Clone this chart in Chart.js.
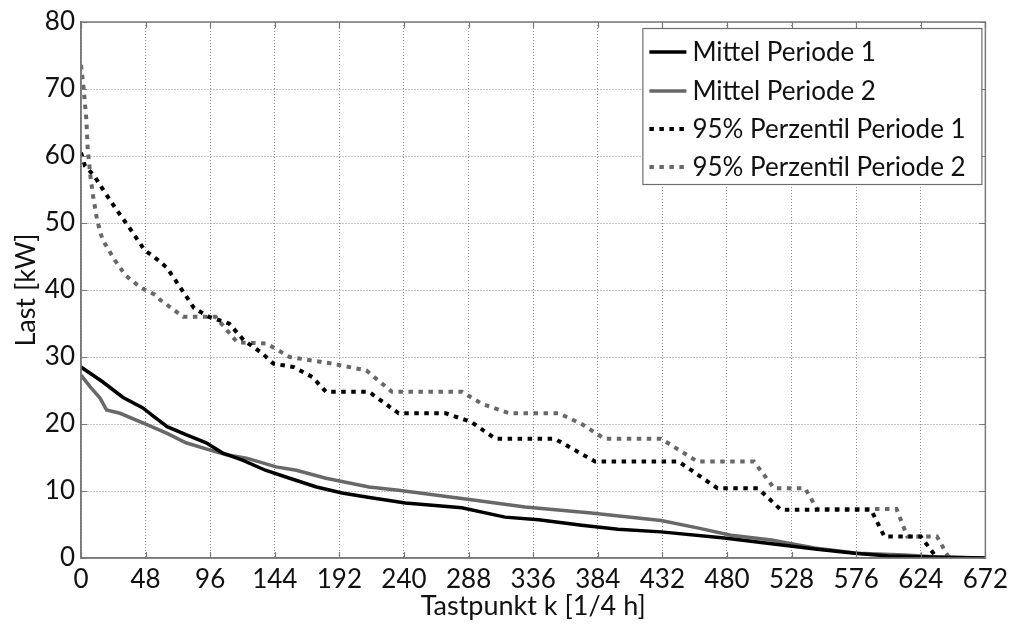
<!DOCTYPE html>
<html>
<head>
<meta charset="utf-8">
<script src="https://cdn.jsdelivr.net/npm/chart.js@4.4.1/dist/chart.umd.min.js"></script>
<style>
  html, body { margin: 0; padding: 0; background: #ffffff; }
  #wrap { width: 1014px; height: 624px; }
</style>
</head>
<body>
<div id="wrap"><canvas id="c" width="1014" height="624"></canvas></div>
<script>
// Sample index k (quarter hours) and sorted load values in kW
const mean1K = [0, 16, 31, 46, 53, 64, 78, 93, 105, 120, 137, 155, 175, 194, 212, 241, 283, 315, 340, 372, 399, 431, 478, 510, 547, 575, 600, 640, 672];
const mean1V = [28.5, 26.3, 24.0, 22.4, 21.3, 19.6, 18.4, 17.2, 15.7, 14.6, 13.1, 11.9, 10.6, 9.7, 9.1, 8.2, 7.5, 6.1, 5.7, 4.9, 4.3, 3.9, 3.0, 2.2, 1.3, 0.7, 0.3, 0.1, 0];

const mean2K = [0, 7, 14, 19, 29, 49, 64, 78, 96, 108, 123, 145, 160, 182, 214, 236, 290, 330, 379, 431, 458, 483, 513, 545, 577, 612, 636, 672];
const mean2V = [27.3, 25.5, 23.9, 22.1, 21.6, 19.9, 18.6, 17.2, 16.1, 15.4, 14.9, 13.6, 13.1, 11.9, 10.6, 10.1, 8.7, 7.6, 6.7, 5.6, 4.5, 3.4, 2.7, 1.5, 0.7, 0.45, 0.15, 0];

const p95_1K = [0, 3, 10, 14, 25, 38, 47, 57, 64, 70, 84, 95, 110, 121, 135, 143, 158, 172, 182, 214, 236, 271, 290, 308, 352, 382, 444, 473, 503, 520, 587, 597, 624, 636, 672];
const p95_1V = [60.5, 58.5, 57.0, 55.7, 52.4, 48.7, 46.0, 44.5, 43.3, 41.5, 37.3, 36.0, 35.0, 32.5, 30.5, 29.0, 28.5, 27.0, 24.8, 24.8, 21.6, 21.6, 20.3, 17.8, 17.8, 14.4, 14.4, 10.4, 10.4, 7.2, 7.2, 3.2, 3.2, 0, 0];

const p95_2K = [0, 2, 4, 5, 7, 9, 12, 16, 25, 33, 44, 55, 59, 76, 100, 116, 138, 155, 187, 212, 231, 283, 298, 318, 355, 372, 389, 431, 458, 500, 515, 538, 547, 606, 614, 636, 645, 672];
const p95_2V = [73.6, 70.0, 65.4, 61.0, 57.0, 54.0, 50.4, 47.5, 44.5, 42.2, 40.4, 39.3, 38.5, 36.0, 36.0, 32.2, 32.0, 30.0, 29.0, 28.0, 24.8, 24.8, 23.0, 21.6, 21.6, 20.0, 17.8, 17.8, 14.4, 14.4, 10.4, 10.4, 7.3, 7.3, 3.2, 3.2, 0, 0];

const seriesNames = ['Mittel Periode 1', 'Mittel Periode 2', '95% Perzentil Periode 1', '95% Perzentil Periode 2'];
const xTicks = [0, 48, 96, 144, 192, 240, 288, 336, 384, 432, 480, 528, 576, 624, 672];
const yTicks = [0, 10, 20, 30, 40, 50, 60, 70, 80];
const xTitle = 'Tastpunkt k [1/4 h]';
const yTitle = 'Last [kW]';

const FONT = 'Lato, "Open Sans", sans-serif';
const BLACK = '#000000';
const GREY = '#686868';

function pts(ks, vs) { return ks.map((k, i) => ({ x: k, y: vs[i] })); }

// Inward tick marks on all four sides plus the closing box (top / right)
const boxTicks = {
  id: 'boxTicks',
  afterDatasetsDraw(chart) {
    const { ctx, chartArea: a, scales: { x, y } } = chart;
    ctx.save();
    ctx.strokeStyle = '#7a7a7a';
    ctx.lineWidth = 1.2;
    ctx.beginPath();
    const L = 6;
    xTicks.forEach(v => {
      const px = Math.round(x.getPixelForValue(v)) + 0.5;
      ctx.moveTo(px, a.bottom); ctx.lineTo(px, a.bottom - L);
      ctx.moveTo(px, a.top); ctx.lineTo(px, a.top + L);
    });
    yTicks.forEach(v => {
      const py = Math.round(y.getPixelForValue(v)) + 0.5;
      ctx.moveTo(a.left, py); ctx.lineTo(a.left + L, py);
      ctx.moveTo(a.right, py); ctx.lineTo(a.right - L, py);
    });
    ctx.stroke();
    ctx.lineWidth = 1.5;
    ctx.strokeRect(a.left, a.top, a.right - a.left, a.bottom - a.top);
    ctx.restore();
  }
};

// Boxed legend in the upper right of the plot area
const boxLegend = {
  id: 'boxLegend',
  afterDraw(chart) {
    const { ctx, chartArea: a } = chart;
    const left = a.right - 343, top = a.top + 6, w = 339, h = 156;
    ctx.save();
    ctx.fillStyle = '#ffffff';
    ctx.fillRect(left, top, w, h);
    ctx.strokeStyle = '#6e6e6e';
    ctx.lineWidth = 1.2;
    ctx.strokeRect(left + 0.5, top + 0.5, w, h);
    ctx.font = '26px ' + FONT;
    ctx.textBaseline = 'middle';
    ctx.fillStyle = '#111111';
    const rows = [24, 63, 101, 139];
    chart.data.datasets.forEach((ds, i) => {
      const cy = top + rows[i];
      ctx.beginPath();
      ctx.strokeStyle = ds.borderColor;
      ctx.lineWidth = ds.borderWidth;
      ctx.setLineDash(ds.borderDash || []);
      ctx.moveTo(left + 7, cy);
      ctx.lineTo(left + 44, cy);
      ctx.stroke();
      ctx.setLineDash([]);
      ctx.fillText(ds.label, left + 50, cy + 1);
    });
    ctx.restore();
  }
};

new Chart(document.getElementById('c'), {
  type: 'line',
  data: {
    datasets: [
      { label: seriesNames[0], data: pts(mean1K, mean1V), borderColor: BLACK, borderWidth: 3.5 },
      { label: seriesNames[1], data: pts(mean2K, mean2V), borderColor: GREY, borderWidth: 3.5 },
      { label: seriesNames[2], data: pts(p95_1K, p95_1V), borderColor: BLACK, borderWidth: 4, borderDash: [4.5, 5.5] },
      { label: seriesNames[3], data: pts(p95_2K, p95_2V), borderColor: GREY, borderWidth: 4, borderDash: [4.5, 5.5] }
    ]
  },
  options: {
    responsive: false,
    animation: false,
    devicePixelRatio: 1,
    elements: { point: { radius: 0 }, line: { tension: 0, fill: false } },
    layout: { padding: { left: 0, right: 26, top: 22, bottom: 0 } },
    plugins: { legend: { display: false }, tooltip: { enabled: false } },
    scales: {
      x: {
        type: 'linear', min: 0, max: 672,
        afterFit(s) { s.height = 66; },
        afterBuildTicks(s) { s.ticks = xTicks.map(v => ({ value: v })); },
        ticks: { font: { family: FONT, size: 26 }, color: '#111111', padding: 6, maxRotation: 0, autoSkip: false },
        grid: { color: '#8c8c8c', lineWidth: 1, drawTicks: false },
        border: { display: true, color: '#7a7a7a', width: 1.5, dash: [1, 2] },
        title: { display: true, text: xTitle, font: { family: FONT, size: 27 }, color: '#111111', padding: { top: 0, bottom: 2 } }
      },
      y: {
        type: 'linear', min: 0, max: 80,
        afterFit(s) { s.width = 81; },
        afterBuildTicks(s) { s.ticks = yTicks.map(v => ({ value: v })); },
        ticks: { font: { family: FONT, size: 26 }, color: '#111111', padding: 6 },
        grid: { color: '#8c8c8c', lineWidth: 1, drawTicks: false },
        border: { display: true, color: '#7a7a7a', width: 1.5, dash: [1, 2] },
        title: { display: true, text: yTitle, font: { family: FONT, size: 27 }, color: '#111111', padding: { top: 10, bottom: 0 } }
      }
    }
  },
  plugins: [boxTicks, boxLegend]
});
</script>
</body>
</html>
